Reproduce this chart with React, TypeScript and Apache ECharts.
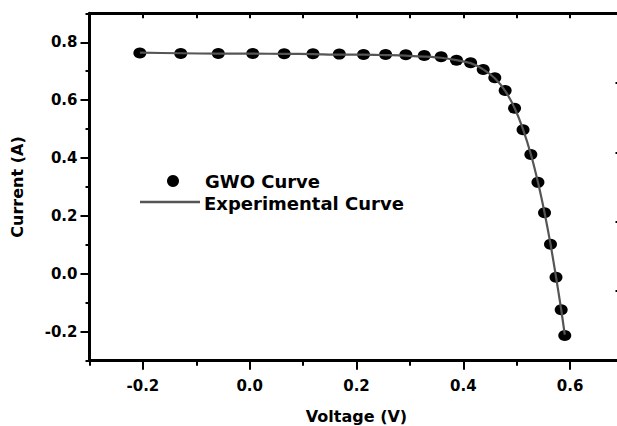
import React, { useEffect, useRef } from "react";
import * as echarts from "echarts";

// Voltage (V) of the measured / fitted points
const voltage = [
  -0.2057, -0.1291, -0.0588, 0.0057, 0.0646, 0.1185, 0.1678, 0.2132, 0.2545,
  0.2924, 0.3269, 0.3585, 0.3873, 0.4137, 0.4373, 0.459, 0.4784, 0.496, 0.5119,
  0.5265, 0.5398, 0.5521, 0.5633, 0.5736, 0.5833, 0.59,
];
// GWO fitted current (A)
const gwoCurrent = [
  0.763, 0.761, 0.761, 0.761, 0.760, 0.760, 0.759, 0.758, 0.758, 0.757, 0.754,
  0.750, 0.738, 0.729, 0.706, 0.677, 0.633, 0.572, 0.498, 0.412, 0.316, 0.211,
  0.102, -0.012, -0.124, -0.213,
];
// Experimental current (A)
const expCurrent = [
  0.764, 0.762, 0.7605, 0.7605, 0.76, 0.759, 0.757, 0.757, 0.7555, 0.754,
  0.7505, 0.7465, 0.7385, 0.728, 0.7065, 0.6755, 0.632, 0.573, 0.499, 0.413,
  0.3165, 0.212, 0.1035, -0.01, -0.123, -0.21,
];

const xTicks = [-0.2, 0.0, 0.2, 0.4, 0.6];
const yTicks = [-0.2, 0.0, 0.2, 0.4, 0.6, 0.8];

const FONT = "DejaVu Sans";

export default function App() {
  const ref = useRef<HTMLDivElement>(null);
  useEffect(() => {
    if (!ref.current) return;
    const chart = echarts.init(ref.current, null, { renderer: "svg" });
    const black = "#000";
    const lbl = {
      color: black,
      fontFamily: FONT,
      fontWeight: "bold" as const,
      fontSize: 15,
    };
    chart.setOption({
      animation: false,
      backgroundColor: "#fff",
      grid: {
        left: 89.5,
        top: 13.3,
        right: -6.5,
        bottom: 65.3,
        containLabel: false,
        outerBoundsMode: "none",
      },
      xAxis: [
        {
          type: "value",
          position: "bottom",
          min: -0.3,
          max: 0.7,
          axisLine: { show: true, onZero: false, lineStyle: { color: black, width: 3 } },
          axisTick: { show: true, inside: false, length: 9, customValues: xTicks, lineStyle: { color: black, width: 2 } },
          axisLabel: {
            ...lbl,
            margin: 18,
            customValues: xTicks,
            formatter: (v: number) => v.toFixed(1),
          },
          splitLine: { show: false },
          name: "Voltage (V)",
          nameLocation: "middle",
          nameGap: 48,
          nameTextStyle: { color: black, fontFamily: FONT, fontWeight: "bold", fontSize: 16 },
        },
        {
          type: "value",
          position: "bottom",
          min: -0.3,
          max: 0.7,
          interval: 0.1,
          axisLine: { show: false, onZero: false },
          axisTick: { show: true, inside: false, length: 5, lineStyle: { color: black, width: 2 } },
          axisLabel: { show: false },
          splitLine: { show: false },
        },
        {
          type: "value",
          position: "top",
          min: -0.3,
          max: 0.7,
          interval: 0.1,
          axisLine: { show: true, onZero: false, lineStyle: { color: black, width: 3 } },
          axisTick: { show: true, inside: true, length: 5, lineStyle: { color: black, width: 2 } },
          axisLabel: { show: false },
          splitLine: { show: false },
        },
      ],
      yAxis: [
        {
          type: "value",
          position: "left",
          min: -0.3,
          max: 0.9,
          axisLine: { show: true, onZero: false, lineStyle: { color: black, width: 3 } },
          axisTick: { show: true, inside: false, length: 9, customValues: yTicks, lineStyle: { color: black, width: 2 } },
          axisLabel: {
            ...lbl,
            margin: 12,
            customValues: yTicks,
            formatter: (v: number) => v.toFixed(1),
          },
          splitLine: { show: false },
          name: "Current (A)",
          nameLocation: "middle",
          nameGap: 64,
          nameTextStyle: { color: black, fontFamily: FONT, fontWeight: "bold", fontSize: 16 },
        },
        {
          type: "value",
          position: "left",
          min: -0.3,
          max: 0.9,
          interval: 0.1,
          axisLine: { show: false, onZero: false },
          axisTick: { show: true, inside: false, length: 4, lineStyle: { color: black, width: 2 } },
          axisLabel: { show: false },
          splitLine: { show: false },
        },
        {
          type: "value",
          position: "right",
          min: 0,
          max: 5,
          interval: 1,
          axisLine: { show: true, onZero: false, lineStyle: { color: black, width: 3 } },
          axisTick: { show: true, inside: true, length: 8, lineStyle: { color: black, width: 2 } },
          axisLabel: { show: false },
          splitLine: { show: false },
        },
      ],
      series: [
        {
          name: "Experimental Curve",
          type: "line",
          xAxisIndex: 0,
          yAxisIndex: 0,
          data: voltage.map((v, i) => [v, expCurrent[i]]),
          showSymbol: false,
          smooth: 0.2,
          lineStyle: { color: "#555", width: 2.2 },
          z: 3,
        },
        {
          name: "GWO Curve",
          type: "scatter",
          xAxisIndex: 0,
          yAxisIndex: 0,
          data: voltage.map((v, i) => [v, gwoCurrent[i]]),
          symbol: "circle",
          symbolSize: [13, 11],
          itemStyle: { color: "#000", opacity: 1 },
          z: 2,
        },
      ],
      graphic: [
        {
          type: "circle",
          shape: { cx: 173, cy: 181, r: 6 },
          style: { fill: "#000" },
        },
        {
          type: "text",
          x: 205,
          y: 181,
          style: {
            text: "GWO Curve",
            fill: "#000",
            fontFamily: FONT,
            fontWeight: "bold",
            fontSize: 18,
            verticalAlign: "middle",
            align: "left",
          },
        },
        {
          type: "line",
          shape: { x1: 140, y1: 202, x2: 200, y2: 202 },
          style: { stroke: "#555", lineWidth: 2.5 },
        },
        {
          type: "text",
          x: 204,
          y: 203,
          style: {
            text: "Experimental Curve",
            fill: "#000",
            fontFamily: FONT,
            fontWeight: "bold",
            fontSize: 18,
            verticalAlign: "middle",
            align: "left",
          },
        },
      ],
    });
    return () => chart.dispose();
  }, []);
  return (
    <div
      ref={ref}
      style={{ position: "absolute", left: 0, top: 0, width: 617, height: 426, background: "#fff" }}
    />
  );
}
